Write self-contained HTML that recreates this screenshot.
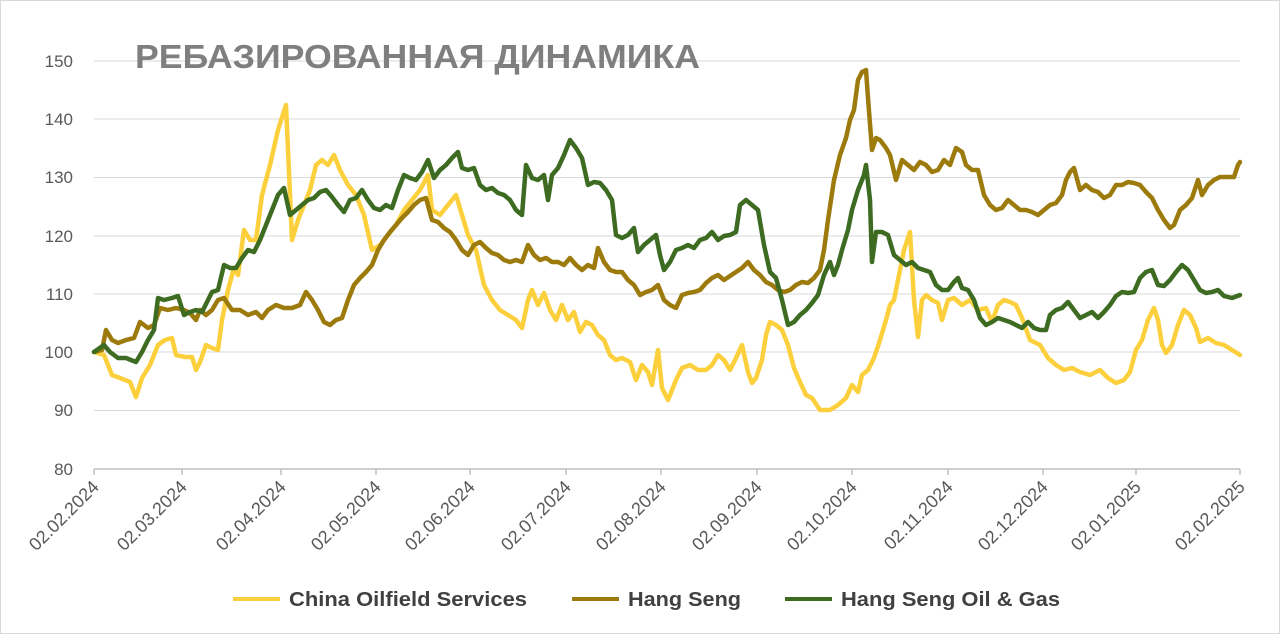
<!DOCTYPE html>
<html><head><meta charset="utf-8"><style>
html,body{margin:0;padding:0;background:#fff;}
svg{display:block;font-family:"Liberation Sans",sans-serif;}
</style></head><body>
<svg width="1280" height="634" viewBox="0 0 1280 634">
<rect x="0.5" y="0.5" width="1279" height="633" fill="#fff" stroke="#d9d9d9"/>
<g stroke="#d9d9d9" stroke-width="1">
<line x1="94" y1="61" x2="1240" y2="61"/><line x1="94" y1="119" x2="1240" y2="119"/>
<line x1="94" y1="177.5" x2="1240" y2="177.5"/><line x1="94" y1="236" x2="1240" y2="236"/>
<line x1="94" y1="294" x2="1240" y2="294"/><line x1="94" y1="352" x2="1240" y2="352"/>
<line x1="94" y1="410.5" x2="1240" y2="410.5"/>
</g>
<g stroke="#bfbfbf" stroke-width="1.5">
<line x1="94" y1="469" x2="1240" y2="469"/>
<line x1="94" y1="469" x2="94" y2="475"/><line x1="182" y1="469" x2="182" y2="475"/><line x1="281" y1="469" x2="281" y2="475"/><line x1="376" y1="469" x2="376" y2="475"/><line x1="470" y1="469" x2="470" y2="475"/><line x1="566" y1="469" x2="566" y2="475"/><line x1="661" y1="469" x2="661" y2="475"/><line x1="757" y1="469" x2="757" y2="475"/><line x1="852" y1="469" x2="852" y2="475"/><line x1="948" y1="469" x2="948" y2="475"/><line x1="1043" y1="469" x2="1043" y2="475"/><line x1="1136" y1="469" x2="1136" y2="475"/><line x1="1240" y1="469" x2="1240" y2="475"/>
</g>
<g fill="#595959" font-size="17" text-anchor="end">
<text x="73" y="67">150</text><text x="73" y="125">140</text><text x="73" y="183">130</text><text x="73" y="242">120</text><text x="73" y="300">110</text><text x="73" y="358">100</text><text x="73" y="416">90</text><text x="73" y="475">80</text>
</g>
<g fill="#595959" font-size="18" text-anchor="end">
<text transform="translate(100,488) rotate(-45)">02.02.2024</text>
<text transform="translate(188,488) rotate(-45)">02.03.2024</text>
<text transform="translate(287,488) rotate(-45)">02.04.2024</text>
<text transform="translate(382,488) rotate(-45)">02.05.2024</text>
<text transform="translate(476,488) rotate(-45)">02.06.2024</text>
<text transform="translate(572,488) rotate(-45)">02.07.2024</text>
<text transform="translate(667,488) rotate(-45)">02.08.2024</text>
<text transform="translate(763,488) rotate(-45)">02.09.2024</text>
<text transform="translate(858,488) rotate(-45)">02.10.2024</text>
<text transform="translate(954,488) rotate(-45)">02.11.2024</text>
<text transform="translate(1049,488) rotate(-45)">02.12.2024</text>
<text transform="translate(1142,488) rotate(-45)">02.01.2025</text>
<text transform="translate(1246,488) rotate(-45)">02.02.2025</text>
</g>
<text x="135" y="68" font-size="33" font-weight="bold" fill="#7f7f7f" textLength="565" lengthAdjust="spacingAndGlyphs">РЕБАЗИРОВАННАЯ ДИНАМИКА</text>
<g fill="none" stroke-width="4.5" stroke-linejoin="round" stroke-linecap="round">
<polyline stroke="#fcd03c" points="94,352 104,355 112,375 120,378 130,382 136,397 142,378 150,365 158,345 165,340 172,338 176,355 185,357 192,357 196,370 200,362 206,345 212,348 218,350 222,320 228,290 234,268 238,275 244,230 250,240 256,240 262,195 270,165 278,130 286,105 292,240 298,220 304,205 310,190 316,165 322,160 328,165 334,155 340,170 348,185 356,195 364,215 372,250 380,245 388,235 396,225 404,210 412,200 420,190 428,175 432,210 440,215 448,205 456,195 462,215 468,235 476,250 484,285 492,300 500,310 508,315 516,320 522,328 528,300 532,290 538,305 544,293 550,310 556,320 562,305 568,320 574,312 580,332 586,322 592,325 598,335 604,340 610,355 616,360 622,358 630,362 636,380 642,365 648,372 652,385 658,350 662,388 668,400 676,380 682,368 690,365 698,370 706,370 712,365 718,355 724,360 730,370 736,358 742,345 748,372 752,383 756,378 762,360 766,335 770,322 776,325 782,330 788,345 794,368 800,382 806,395 812,398 820,410 830,410 838,405 846,398 852,385 858,392 862,375 868,370 874,358 880,340 886,320 890,305 894,300 898,280 904,250 910,232 914,300 918,337 922,300 926,295 932,300 938,303 942,320 948,300 954,298 962,305 970,300 978,310 986,308 992,322 998,305 1004,300 1010,302 1016,305 1022,318 1030,340 1040,345 1048,358 1056,365 1064,370 1072,368 1080,372 1090,375 1100,370 1108,378 1116,383 1124,380 1130,372 1136,350 1142,340 1148,320 1154,308 1158,320 1162,345 1166,353 1172,345 1178,325 1184,310 1190,315 1196,328 1200,342 1208,338 1216,343 1224,345 1232,350 1240,355"/>
<polyline stroke="#9c7a0c" points="94,352 102,350 106,330 112,340 118,343 126,340 134,338 140,322 148,328 154,325 160,308 168,310 176,308 184,310 190,313 196,320 200,310 206,315 212,310 218,300 224,298 232,310 240,310 248,315 256,312 262,318 268,310 276,305 284,308 292,308 300,305 306,292 312,300 318,310 324,322 330,325 336,320 342,318 348,300 354,285 360,278 366,272 372,265 378,250 384,240 390,232 396,225 402,218 408,212 414,205 420,200 426,198 432,220 438,222 444,228 450,232 456,240 462,250 468,255 474,245 480,242 486,248 492,253 498,255 504,260 510,262 516,260 522,262 528,245 534,255 540,260 546,258 552,262 558,262 564,265 570,258 576,265 582,270 588,265 594,268 598,248 604,262 610,270 616,272 622,272 628,280 634,285 640,295 646,292 652,290 658,285 664,300 670,305 676,308 682,295 688,293 694,292 700,290 706,283 712,278 718,275 724,280 730,276 736,272 742,268 748,262 754,270 760,275 766,282 772,285 778,290 784,292 790,290 796,285 802,282 808,283 814,278 820,270 824,250 828,220 834,180 840,155 846,138 850,120 854,110 858,80 862,72 866,70 868,98 872,150 876,138 880,140 886,148 890,155 896,180 902,160 908,165 914,170 920,162 926,165 932,172 938,170 944,160 950,165 956,148 962,152 966,165 972,170 978,170 984,195 990,205 996,210 1002,208 1008,200 1014,205 1020,210 1026,210 1032,212 1038,215 1044,210 1050,205 1056,203 1062,195 1066,180 1070,172 1074,168 1080,190 1086,185 1092,190 1098,192 1104,198 1110,195 1116,185 1122,185 1128,182 1134,183 1140,185 1146,192 1152,198 1158,210 1164,220 1170,228 1174,225 1180,210 1186,205 1192,198 1198,180 1202,195 1208,185 1214,180 1220,177 1226,177 1234,177 1238,165 1240,162"/>
<polyline stroke="#3d6b21" points="94,352 104,345 110,352 118,358 126,358 136,362 142,352 148,340 154,330 158,298 164,300 172,298 178,296 184,315 190,312 196,310 202,312 208,300 212,292 218,290 224,265 230,268 236,268 242,258 248,250 254,252 260,240 266,225 272,210 278,195 284,188 290,215 296,210 302,205 308,200 314,198 320,192 326,190 332,197 338,205 344,212 350,200 356,198 362,190 368,200 374,208 380,210 386,205 392,208 398,190 404,175 410,178 416,180 422,172 428,160 434,178 440,170 446,165 452,158 458,152 462,168 468,170 474,168 480,185 486,190 492,188 498,193 504,195 510,200 516,210 522,215 526,165 532,178 538,180 544,175 548,200 552,175 558,168 564,155 570,140 576,148 582,158 588,185 594,182 600,183 606,190 612,200 616,235 622,238 628,235 634,228 638,252 644,245 650,240 656,235 660,255 664,270 670,262 676,250 682,248 688,245 694,248 700,240 706,238 712,232 718,240 724,236 730,235 736,232 740,205 746,200 752,205 758,210 764,245 770,272 776,278 782,300 788,325 794,322 800,315 806,310 812,303 818,295 824,275 830,262 834,275 838,265 842,250 848,230 852,210 858,190 864,175 866,165 870,200 872,262 876,232 882,232 888,235 894,255 900,260 906,265 912,262 918,268 924,270 930,272 936,285 942,290 948,290 954,282 958,278 962,288 968,290 974,300 980,318 986,325 992,322 998,318 1004,320 1010,322 1016,325 1022,328 1028,322 1034,328 1040,330 1046,330 1050,315 1056,310 1062,308 1068,302 1074,310 1080,318 1086,315 1092,312 1098,318 1104,312 1110,305 1116,296 1122,292 1128,293 1134,292 1140,278 1146,272 1152,270 1158,285 1164,286 1170,280 1176,272 1182,265 1188,270 1194,280 1200,290 1206,293 1212,292 1218,290 1224,296 1232,298 1240,295"/>
</g>
<g font-size="20" font-weight="bold" fill="#404040">
<line x1="233" y1="599" x2="280" y2="599" stroke="#fcd03c" stroke-width="4"/>
<text x="289" y="606" textLength="238" lengthAdjust="spacingAndGlyphs">China Oilfield Services</text>
<line x1="572" y1="599" x2="619" y2="599" stroke="#9c7a0c" stroke-width="4"/>
<text x="628" y="606" textLength="113" lengthAdjust="spacingAndGlyphs">Hang Seng</text>
<line x1="785" y1="599" x2="832" y2="599" stroke="#3d6b21" stroke-width="4"/>
<text x="841" y="606" textLength="219" lengthAdjust="spacingAndGlyphs">Hang Seng Oil &amp; Gas</text>
</g>
</svg>
</body></html>
